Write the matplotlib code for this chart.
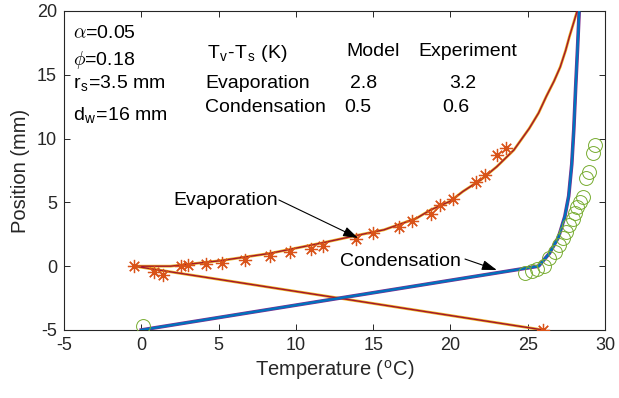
import matplotlib
matplotlib.use("Agg")
import matplotlib.pyplot as plt

plt.rcParams['font.family'] = ['Liberation Sans', 'DejaVu Sans']
plt.rcParams['mathtext.fontset'] = 'cm'
plt.rcParams['axes.unicode_minus'] = False

# Model curves (Temperature in degC, Position in mm)
evap_model_T = [26.0, -0.45, 1.9, 5.1, 8.3, 11.6, 13.9, 15.7, 17.8, 18.7, 20.0,
                20.8, 22.0, 23.0, 24.1, 25.1, 25.7, 26.2, 26.7, 27.1, 27.45, 27.7, 28.2]
evap_model_y = [-5.0, 0.0, 0.0, 0.43, 1.0, 1.8, 2.4, 2.85, 3.75, 4.4, 5.1,
                5.85, 6.8, 7.8, 9.1, 10.8, 12.0, 13.3, 14.5, 15.6, 16.9, 18.0, 20.0]

cond_model_T = [0.0, 25.7, 26.4, 27.0, 27.4, 27.65, 27.85, 27.98, 28.1, 28.22, 28.33]
cond_model_y = [-5.0, 0.0, 1.0, 2.3, 3.9, 5.5, 8.0, 10.7, 14.0, 17.0, 20.0]

# Experimental data
evap_exp_T = [-0.45, 0.8, 1.4, 2.6, 3.05, 4.2, 5.2, 6.7, 8.3, 9.65, 10.97, 11.76,
              13.9, 15.0, 16.7, 17.5, 18.75, 19.3, 20.14, 21.65, 22.23, 22.99, 23.59, 26.0]
evap_exp_y = [0.0, -0.45, -0.7, 0.0, 0.08, 0.2, 0.26, 0.47, 0.78, 1.1, 1.38, 1.59,
              2.1, 2.6, 3.07, 3.54, 4.1, 4.8, 5.24, 6.63, 7.15, 8.7, 9.24, -5.0]

cond_exp_T = [0.1, 24.8, 25.25, 25.57, 26.07, 26.4, 26.75, 27.0, 27.3, 27.5, 27.7,
              27.9, 28.05, 28.2, 28.4, 28.6, 28.8, 28.98, 29.2, 29.35]
cond_exp_y = [-4.7, -0.5, -0.35, -0.24, 0.0, 0.62, 1.14, 1.66, 2.2, 2.7, 3.2,
              3.7, 4.15, 4.6, 5.05, 5.45, 6.9, 7.4, 8.9, 9.5]

xticks = [-5, 0, 5, 10, 15, 20, 25, 30]
yticks = [-5, 0, 5, 10, 15, 20]

fig = plt.figure(figsize=(6.19, 3.98), dpi=100)
ax = fig.add_axes([0.1034, 0.1709, 0.8740, 0.8015])

ax.plot(evap_model_T, evap_model_y, color='#EDB120', lw=2.0, zorder=2)
ax.plot(evap_model_T, evap_model_y, color='#A2142F', lw=1.0, zorder=3)
ax.plot(cond_model_T, cond_model_y, color='#7E2F8E', lw=2.6, zorder=2)
ax.plot(cond_model_T, cond_model_y, color='#0072BD', lw=1.7, zorder=3)

ax.plot(evap_exp_T, evap_exp_y, ls='none', marker=(8, 2, 0), ms=9.5,
        mec='#D95319', mew=0.9, zorder=4)
ax.plot(cond_exp_T, cond_exp_y, ls='none', marker='o', ms=10, mfc='none',
        mec='#77AC30', mew=0.7, zorder=4)

ax.set_xlim(-5, 30)
ax.set_ylim(-5, 20)
ax.set_xticks(xticks)
ax.set_yticks(yticks)
ax.tick_params(direction='in', top=True, right=True, length=4, width=0.7,
               labelsize=13, colors='#262626', pad=5)
for s in ax.spines.values():
    s.set_color('#262626')
    s.set_linewidth(0.8)

ax.set_xlabel(r'Temperature ($^\mathregular{o}$C)', fontsize=14.5, color='#262626', labelpad=4)
ax.set_ylabel('Position (mm)', fontsize=14.5, color='#262626', labelpad=5)

fs = 14
ax.text(-4.42, 18.2, r'$\alpha$=0.05', fontsize=fs, va='center')
ax.text(-4.42, 16.16, r'$\phi$=0.18', fontsize=fs, va='center')
ax.text(-4.42, 14.3, r'r$_\mathregular{s}$=3.5 mm', fontsize=fs, va='center')
ax.text(-4.42, 11.75, r'd$_\mathregular{w}$=16 mm', fontsize=fs, va='center')

ax.text(4.25, 16.7, r'T$_\mathregular{v}$-T$_\mathregular{s}$ (K)', fontsize=fs, va='center')
ax.text(13.3, 16.8, 'Model', fontsize=fs, va='center')
ax.text(17.9, 16.8, 'Experiment', fontsize=fs, va='center')
ax.text(4.12, 14.28, 'Evaporation', fontsize=fs, va='center')
ax.text(13.5, 14.28, '2.8', fontsize=fs, va='center')
ax.text(19.9, 14.28, '3.2', fontsize=fs, va='center')
ax.text(4.12, 12.4, 'Condensation', fontsize=fs, va='center')
ax.text(13.1, 12.4, '0.5', fontsize=fs, va='center')
ax.text(19.45, 12.4, '0.6', fontsize=fs, va='center')

arrow_style = '-|>,head_length=0.9,head_width=0.3'
ax.text(2.05, 5.11, 'Evaporation', fontsize=fs, va='center')
ax.annotate('', xy=(14.02, 2.21), xytext=(8.9, 5.19),
            arrowprops=dict(arrowstyle=arrow_style, color='black', lw=0.8,
                            shrinkA=0, shrinkB=0), zorder=6)
ax.text(12.85, 0.33, 'Condensation', fontsize=fs, va='center')
ax.annotate('', xy=(23.0, -0.3), xytext=(20.94, 0.56),
            arrowprops=dict(arrowstyle=arrow_style, color='black', lw=0.8,
                            shrinkA=0, shrinkB=0), zorder=6)

fig.savefig('out.png', dpi=100)
